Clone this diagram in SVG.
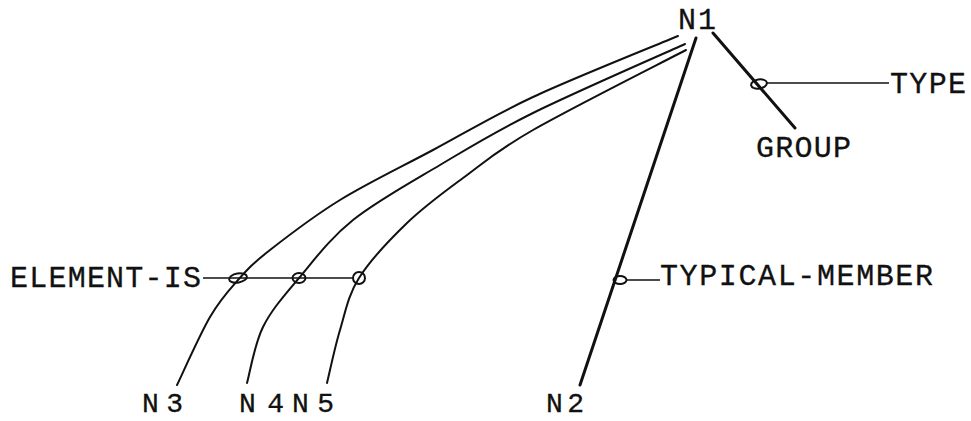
<svg xmlns="http://www.w3.org/2000/svg" width="971" height="421" viewBox="0 0 971 421">
<style>
.lbl{font-family:"Liberation Mono","Courier New",monospace;font-size:30px;fill:#111;stroke:#111;stroke-width:0.3}
.low{font-size:28px}
.arc{fill:none;stroke:#111;stroke-width:2;stroke-linecap:round;stroke-linejoin:round}
.bold{fill:none;stroke:#111;stroke-width:3;stroke-linecap:round}
.thin{fill:none;stroke:#111;stroke-width:1.6}
.ring{fill:none;stroke:#111;stroke-width:2}
</style>
<rect width="971" height="421" fill="#fff"/>
<g id="connectors">
<path class="arc" d="M678,36 C653.8,46.2 573.8,78 533,97 C492.2,116 465.2,132.8 433,150 C400.8,167.2 367.2,183.3 340,200 C312.8,216.7 287,236.7 270,250 C253,263.3 248,268.8 238,280 C228,291.2 220.2,299.5 210,317 C199.8,334.5 182.5,373.7 177,385"/>
<path class="arc" d="M685,44 C659.7,55.5 573.8,92.8 533,113 C492.2,133.2 470,147.2 440,165 C410,182.8 376.5,201.2 353,220 C329.5,238.8 314,260.2 299,278 C284,295.8 271.7,309.5 263,327 C254.3,344.5 249.7,373.7 247,383"/>
<path class="arc" d="M686,50 C660.5,63.3 570.2,108.7 533,130 C495.8,151.3 484,162.5 463,178 C442,193.5 424.3,206.3 407,223 C389.7,239.7 370.2,260.2 359,278 C347.8,295.8 345.3,312.5 340,330 C334.7,347.5 329.2,374.2 327,383"/>
<line class="bold" x1="696" y1="38" x2="580" y2="385"/>
<line class="bold" x1="713" y1="33" x2="795" y2="128"/>
<line class="thin" x1="203" y1="278" x2="353" y2="278"/>
<line class="thin" x1="626" y1="280" x2="660" y2="280"/>
<line class="thin" x1="766" y1="83" x2="889" y2="83"/>
<ellipse class="ring" cx="238" cy="278" rx="9" ry="4.5" transform="rotate(-10 238 278)"/>
<ellipse class="ring" cx="299" cy="278" rx="6.5" ry="5"/>
<ellipse class="ring" cx="359" cy="278" rx="6" ry="6"/>
<ellipse class="ring" cx="620" cy="280" rx="6.5" ry="4"/>
<ellipse class="ring" cx="759" cy="84" rx="8" ry="4.5" transform="rotate(-10 759 84)"/>
</g>
<g id="N1"><text class="lbl" x="678" y="29" textLength="38" lengthAdjust="spacing">N1</text></g>
<g id="TYPE"><text class="lbl" x="890" y="93" textLength="76" lengthAdjust="spacing">TYPE</text></g>
<g id="GROUP"><text class="lbl" x="756" y="157" textLength="95" lengthAdjust="spacing">GROUP</text></g>
<g id="ELEMENT-IS"><text class="lbl" x="10" y="287" textLength="191" lengthAdjust="spacing">ELEMENT-IS</text></g>
<g id="TYPICAL-MEMBER"><text class="lbl" x="660" y="285" textLength="273" lengthAdjust="spacing">TYPICAL-MEMBER</text></g>
<g id="N3"><text class="lbl low" x="142" y="412" textLength="41" lengthAdjust="spacing">N3</text></g>
<g id="N4"><text class="lbl low" x="239" y="412" textLength="45" lengthAdjust="spacing">N4</text></g>
<g id="N5"><text class="lbl low" x="292" y="412" textLength="42" lengthAdjust="spacing">N5</text></g>
<g id="N2"><text class="lbl low" x="546" y="412" textLength="38" lengthAdjust="spacing">N2</text></g>
</svg>
